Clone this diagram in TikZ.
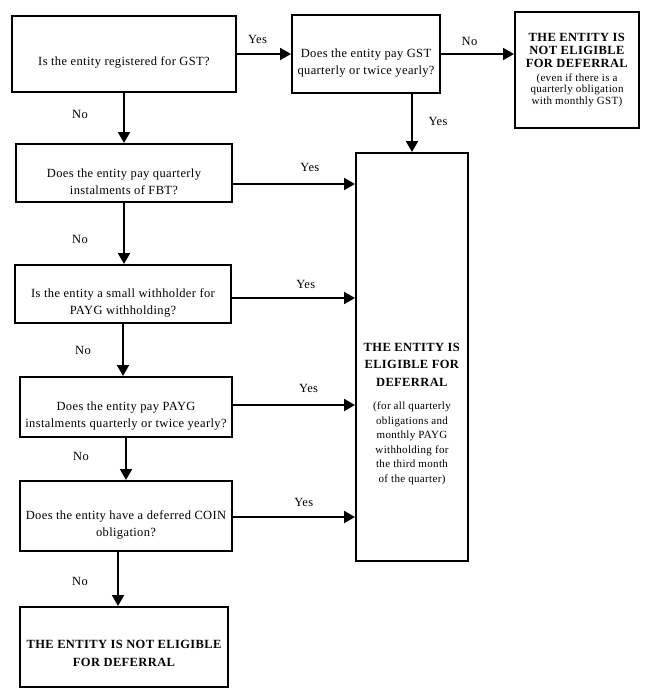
\documentclass[tikz,border=0pt]{standalone}
\usepackage{fontspec}
\setmainfont[LetterSpace=3]{Liberation Serif}
\usetikzlibrary{arrows.meta}

% invisible strut that pushes a box's text down
\newcommand{\pushdown}[1]{\rule{0pt}{#1}}

\begin{document}
\begin{tikzpicture}[x=1pt, y=-1pt,
    box/.style={draw, line width=2pt, align=center, inner sep=2pt,
      font=\fontsize{12.5}{17}\selectfont},
    flow/.style={line width=2pt, -{Triangle[length=11pt, width=12pt]}},
    lbl/.style={font=\fontsize{12.5}{13}\selectfont, inner sep=0pt}]

\useasboundingbox (0,0) rectangle (650,698);

% Questions
\node[box, minimum width=224pt, minimum height=76pt] (gstreg) at (124,54)
  {\pushdown{26pt}Is the entity registered for GST?};
\node[box, minimum width=148pt, minimum height=78pt] (gstpay) at (366,54)
  {\pushdown{26pt}Does the entity pay GST\\ quarterly or twice yearly?};
\node[box, minimum width=216pt, minimum height=58pt] (fbt) at (124,173)
  {\pushdown{26pt}Does the entity pay quarterly\\ instalments of FBT?};
\node[box, minimum width=216pt, minimum height=58pt] (withholder) at (123,294)
  {\pushdown{26pt}Is the entity a small withholder for\\ PAYG withholding?};
\node[box, minimum width=212pt, minimum height=60pt] (payg) at (126,407)
  {\pushdown{26pt}Does the entity pay PAYG\\ instalments quarterly or twice yearly?};
\node[box, minimum width=212pt, minimum height=70pt] (coin) at (126,516)
  {\pushdown{26pt}Does the entity have a deferred COIN\\ obligation?};

% Outcomes
\node[box, minimum width=124pt, minimum height=116pt, font=\fontsize{12.5}{13}\selectfont] (gstno) at (577,70)
  {\textbf{THE ENTITY IS}\\ \textbf{NOT ELIGIBLE}\\ \textbf{FOR DEFERRAL}\\[1pt]
   {\fontsize{11}{12}\selectfont (even if there is a}\\[-1.5pt]
   {\fontsize{11}{12}\selectfont quarterly obligation}\\[-1.5pt]
   {\fontsize{11}{12}\selectfont with monthly GST)}};
\node[box, minimum width=112pt, minimum height=408pt, font=\fontsize{12.5}{17.5}\selectfont] (eligible) at (412,357)
  {\pushdown{122pt}\textbf{THE ENTITY IS}\\ \textbf{ELIGIBLE FOR}\\ \textbf{DEFERRAL}\\[6pt]
   {\fontsize{11}{12}\selectfont (for all quarterly}\\[-3pt]
   {\fontsize{11}{12}\selectfont obligations and}\\[-3pt]
   {\fontsize{11}{12}\selectfont monthly PAYG}\\[-3pt]
   {\fontsize{11}{12}\selectfont withholding for}\\[-3pt]
   {\fontsize{11}{12}\selectfont the third month}\\[-3pt]
   {\fontsize{11}{12}\selectfont of the quarter)}};
\node[box, minimum width=208pt, minimum height=80pt, font=\fontsize{12.5}{18}\selectfont\bfseries] (ineligible) at (124,647)
  {\pushdown{22pt}THE ENTITY IS NOT ELIGIBLE\\ FOR DEFERRAL};

% Yes branches
\draw[flow] (gstreg.east) -- (gstreg.east -| gstpay.west)
  node[lbl, pos=.38, yshift=15pt] {Yes};
\draw[flow] (gstpay.east) -- (gstpay.east -| gstno.west)
  node[lbl, pos=.39, yshift=13pt] {No};
\draw[flow] (eligible.north |- gstpay.south) -- (eligible.north)
  node[lbl, pos=.48, xshift=26pt] {Yes};
\draw[flow] ([yshift=-11pt]fbt.east) -- ([yshift=-11pt]fbt.east -| eligible.west)
  node[lbl, pos=.63, yshift=17pt] {Yes};
\draw[flow] ([yshift=-4pt]withholder.east) -- ([yshift=-4pt]withholder.east -| eligible.west)
  node[lbl, pos=.6, yshift=14pt] {Yes};
\draw[flow] ([yshift=2pt]payg.east) -- ([yshift=2pt]payg.east -| eligible.west)
  node[lbl, pos=.62, yshift=17pt] {Yes};
\draw[flow] ([yshift=-1pt]coin.east) -- ([yshift=-1pt]coin.east -| eligible.west)
  node[lbl, pos=.58, yshift=15pt] {Yes};

% No branches
\draw[flow] (gstreg.south) -- (gstreg.south |- fbt.north)
  node[lbl, pos=.42, xshift=-44pt] {No};
\draw[flow] (fbt.south) -- (fbt.south |- withholder.north)
  node[lbl, pos=.59, xshift=-44pt] {No};
\draw[flow] (withholder.south) -- (withholder.south |- payg.north)
  node[lbl, pos=.5, xshift=-40pt] {No};
\draw[flow] (payg.south) -- (payg.south |- coin.north)
  node[lbl, pos=.43, xshift=-45pt] {No};
\draw[flow] ([xshift=-8pt]coin.south) -- ([xshift=-8pt]coin.south |- ineligible.north)
  node[lbl, pos=.54, xshift=-38pt] {No};

\end{tikzpicture}
\end{document}
